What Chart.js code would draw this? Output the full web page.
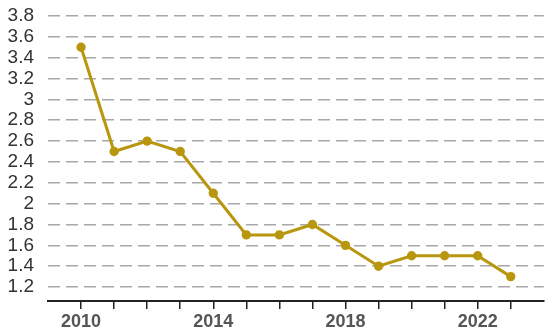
<!DOCTYPE html>
<html>
<head>
<meta charset="utf-8">
<script src="https://cdn.jsdelivr.net/npm/chart.js@4/dist/chart.umd.min.js"></script>
<style>
  html, body { margin: 0; padding: 0; background: #fff; }
  #wrap { width: 550px; height: 334px; }
</style>
</head>
<body>
<div id="wrap"><canvas id="c" width="550" height="334"></canvas></div>
<script>
// yearly series
var YEARS = [2010, 2011, 2012, 2013, 2014, 2015, 2016, 2017, 2018, 2019, 2020, 2021, 2022, 2023];
var VALUES = [3.5, 2.5, 2.6, 2.5, 2.1, 1.7, 1.7, 1.8, 1.6, 1.4, 1.5, 1.5, 1.5, 1.3];
var Y_TICKS = [1.2, 1.4, 1.6, 1.8, 2, 2.2, 2.4, 2.6, 2.8, 3, 3.2, 3.4, 3.6, 3.8];
var X_LABELS = [2010, 2014, 2018, 2022];

var LINE = "#b8970f";

var pts = YEARS.map(function (y, i) { return { x: y, y: VALUES[i] }; });

new Chart(document.getElementById("c"), {
  type: "line",
  data: {
    datasets: [{
      data: pts,
      borderColor: LINE,
      backgroundColor: LINE,
      borderWidth: 3,
      pointRadius: 3.2,
      pointHoverRadius: 3.2,
      tension: 0,
      fill: false
    }]
  },
  options: {
    responsive: false,
    animation: false,
    parsing: false,
    layout: { padding: { top: 16, right: 5, left: 0, bottom: 0 } },
    plugins: { legend: { display: false }, tooltip: { enabled: false } },
    scales: {
      x: {
        type: "linear",
        min: 2009,
        max: 2024,
        afterBuildTicks: function (s) {
          s.ticks = YEARS.map(function (y) { return { value: y }; });
        },
        // pin the axis band so the plot bottom lands where the reference has it
        afterFit: function (s) { s.height = 33; s.paddingLeft = 0; s.paddingRight = 0; },
        border: { display: true, color: "#222", width: 2 },
        grid: { drawOnChartArea: false, drawTicks: true, tickLength: 8, color: "#222", lineWidth: 1.5 },
        ticks: {
          autoSkip: false,
          maxRotation: 0,
          padding: 2,
          color: "#555",
          font: { family: "Liberation Sans, Arial, sans-serif", size: 18, weight: "bold" },
          callback: function (v) { return X_LABELS.indexOf(v) >= 0 ? String(v) : ""; }
        }
      },
      y: {
        min: 1.066,
        max: 3.8,
        afterBuildTicks: function (s) {
          s.ticks = Y_TICKS.map(function (v) { return { value: v }; });
        },
        afterFit: function (s) { s.width = 48; s.paddingTop = 0; s.paddingBottom = 0; },
        border: { display: false, dash: [12, 6] },
        grid: { drawTicks: false, color: "#a8a8a8", lineWidth: 1.5 },
        ticks: {
          autoSkip: false,
          padding: 14,
          color: "#333",
          font: { family: "Liberation Sans, Arial, sans-serif", size: 19 },
          callback: function (v) { return String(+v.toFixed(1)); }
        }
      }
    }
  }
});
</script>
</body>
</html>
